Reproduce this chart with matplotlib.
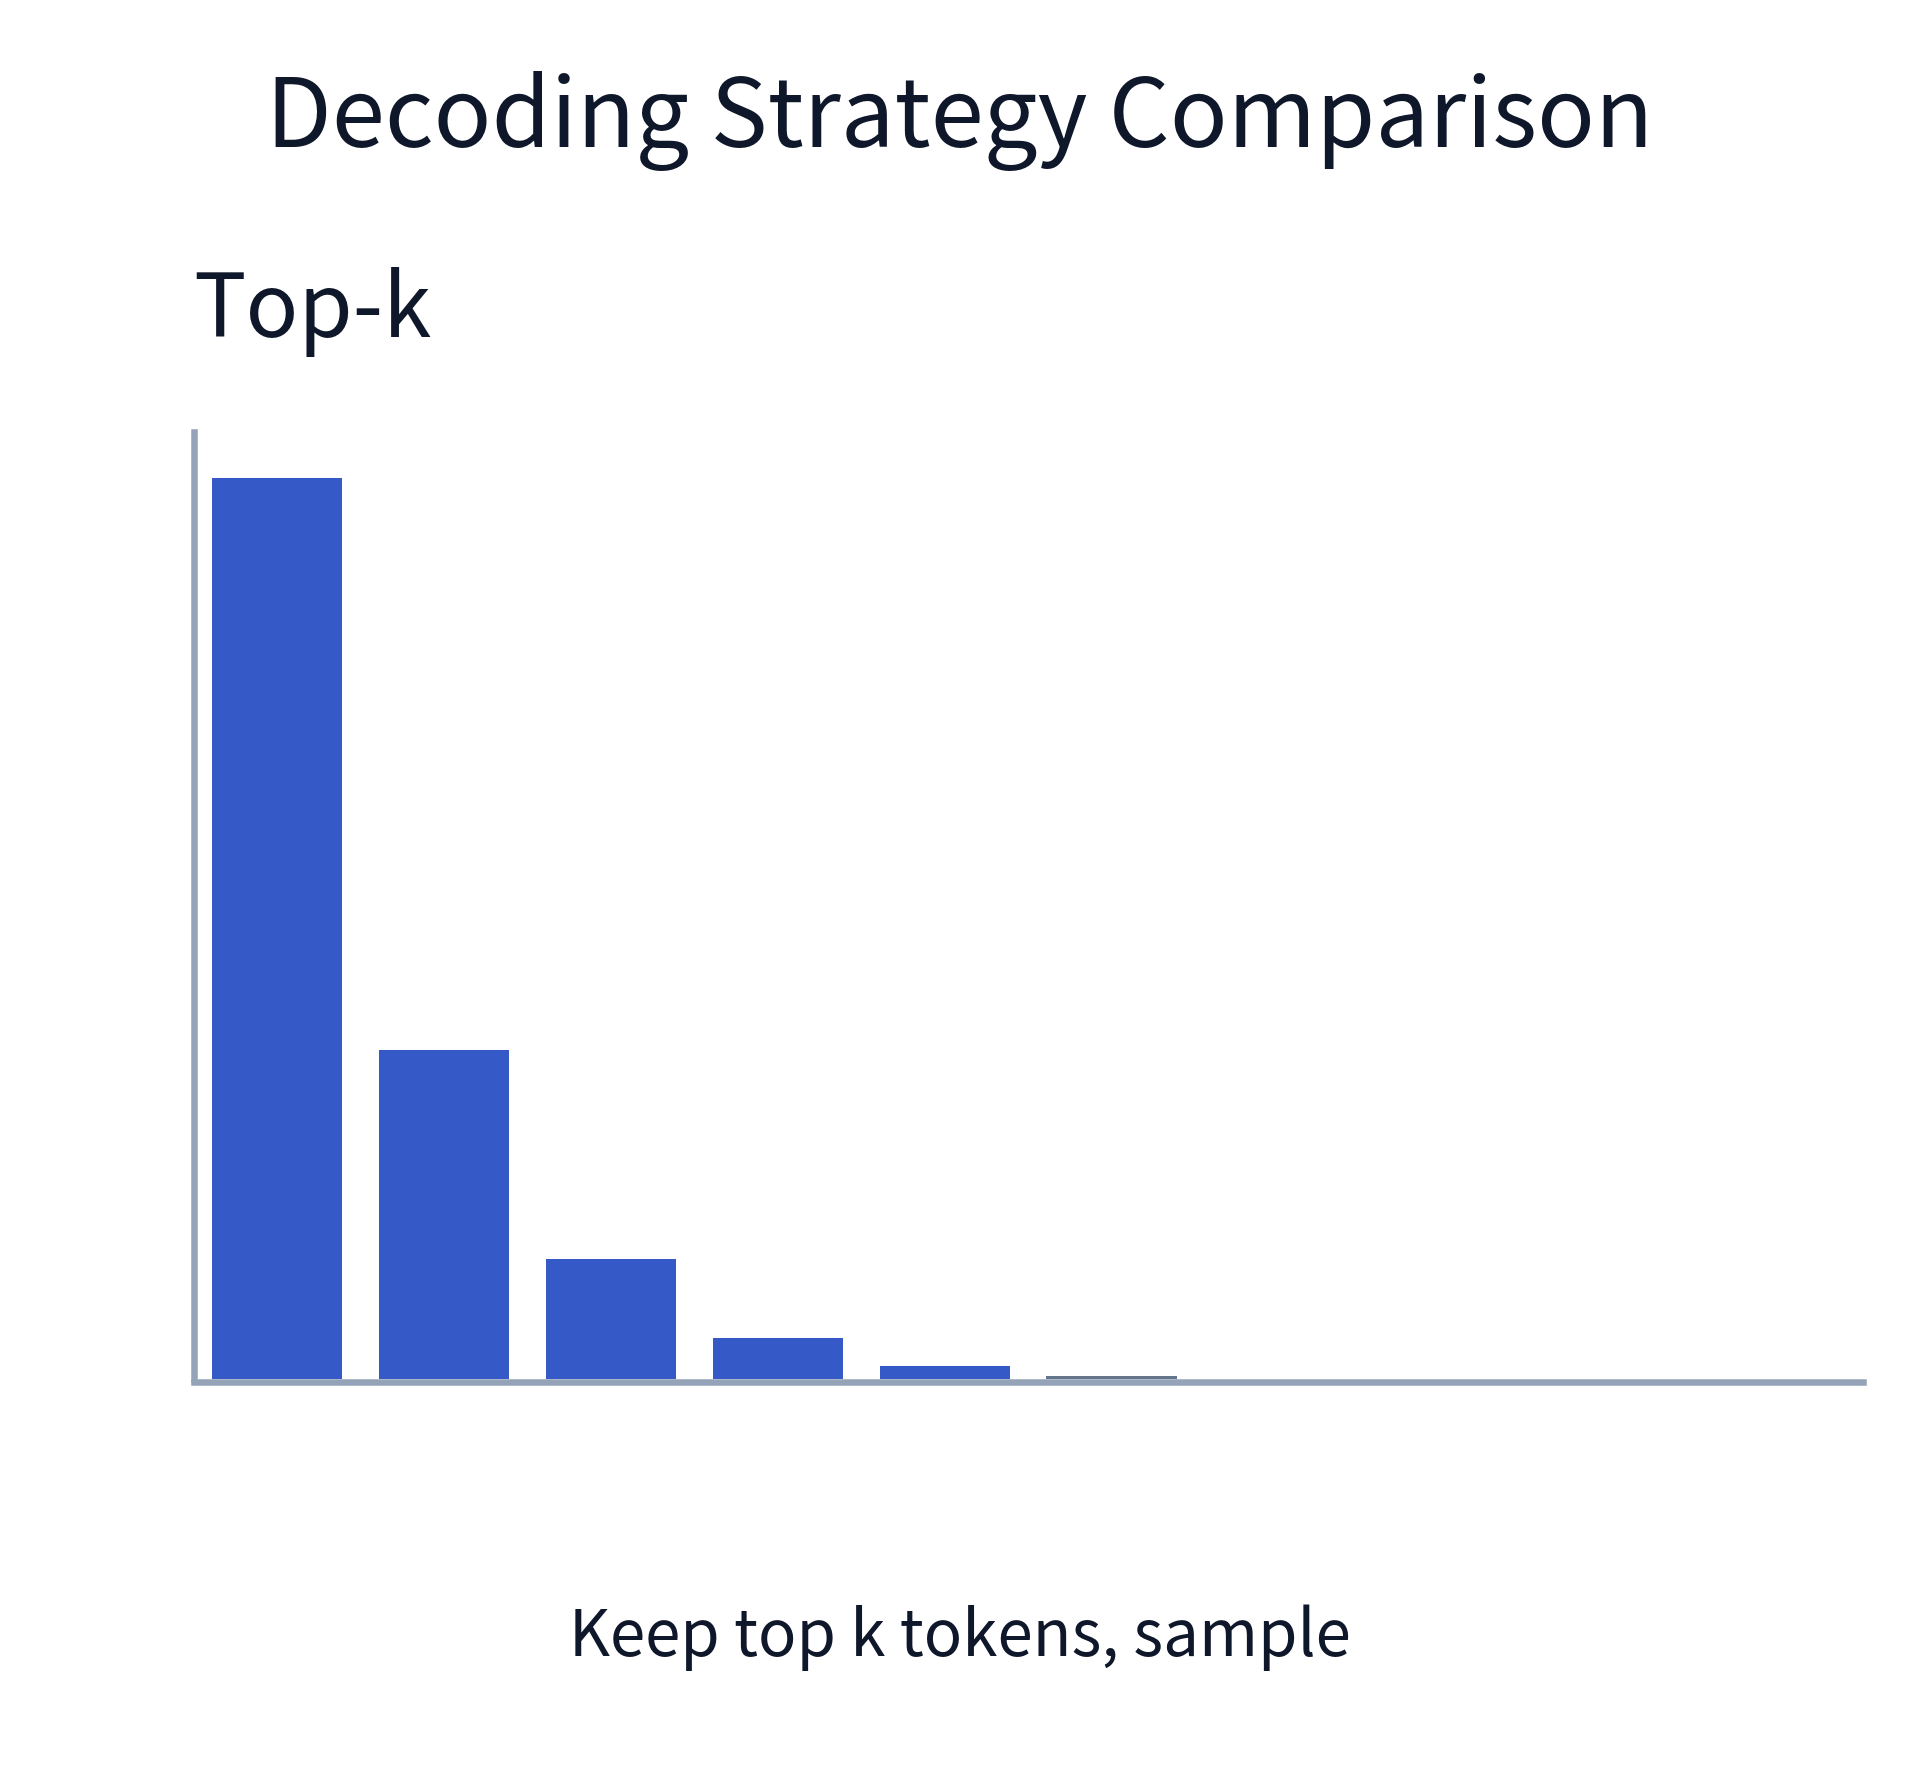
import matplotlib
matplotlib.use("Agg")
import matplotlib.pyplot as plt

# data
tokens = list(range(10))
probs = [0.620, 0.2262, 0.0825, 0.0277, 0.0088, 0.0017, 0.0, 0.0, 0.0, 0.0]
top_k = 5

title = "Decoding Strategy Comparison"
panel_title = "Top-k"
caption = "Keep top k tokens, sample"

BLUE = "#3559c7"
GREY = "#64748b"
AXIS = "#94a3b8"
TEXT = "#0f172a"

plt.rcParams["font.family"] = ["Noto Sans CJK KR", "DejaVu Sans"]

W, H = 1920, 1792
fig = plt.figure(figsize=(W / 100, H / 100), dpi=100)
fig.patch.set_facecolor("white")

# axes box in pixels
left, right, top, bottom = 193.5, 1862.7, 432.0, 1378.5
ax = fig.add_axes([left / W, 1 - bottom / H, (right - left) / W, (bottom - top) / H])

colors = [BLUE if i < top_k else GREY for i in tokens]
ax.bar(tokens, probs, width=0.78, color=colors, linewidth=0)

ax.set_xlim(-0.5, len(tokens) - 0.5)
ax.set_ylim(0, probs[0] * 946.5 / 900.5)

for s in ["top", "right"]:
    ax.spines[s].set_visible(False)
for s in ["left", "bottom"]:
    ax.spines[s].set_color(AXIS)
    ax.spines[s].set_linewidth(4.7)
ax.spines["bottom"].set_position(("outward", 2.4))
ax.spines["bottom"].set_zorder(0.5)
ax.set_xticks([])
ax.set_yticks([])

fig.text(0.5, 1 - 147.3 / H, title, ha="center", va="baseline",
         fontsize=68.8, color=TEXT)
fig.text(193 / W, 1 - 336.7 / H, panel_title, ha="left", va="baseline",
         fontsize=63, color=TEXT)
fig.text(0.5, 1 - 1656 / H, caption, ha="center", va="baseline",
         fontsize=45.8, color=TEXT)

fig.savefig("out.png", dpi=100, facecolor="white")
